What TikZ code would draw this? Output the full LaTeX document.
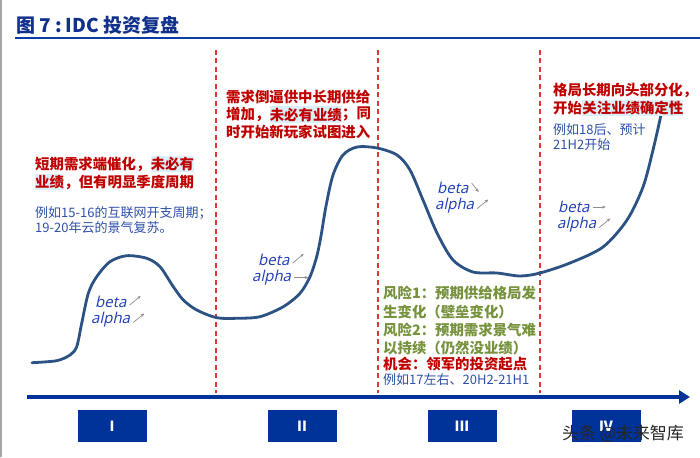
\documentclass[tikz,border=0pt]{standalone}
\usepackage{fontspec}
\setmainfont{Noto Sans CJK SC}
\newfontfamily\itfont[FakeSlant=0.22]{Open Sans}
\usetikzlibrary{arrows.meta}
\definecolor{titleblue}{RGB}{16,48,140}
\definecolor{lineblue}{RGB}{10,60,170}
\definecolor{myred}{RGB}{192,0,0}
\definecolor{myblue}{RGB}{47,80,168}
\definecolor{mygreen}{RGB}{118,146,60}
\definecolor{curvecol}{RGB}{44,82,132}
\definecolor{dashred}{RGB}{228,52,52}
\definecolor{boxblue}{RGB}{0,51,153}
\definecolor{hlcol}{RGB}{220,240,251}
\definecolor{greekblue}{RGB}{30,60,180}
\definecolor{arrgray}{RGB}{140,140,140}
\begin{document}
\begin{tikzpicture}[x=1pt,y=-1pt,
  redtxt/.style={anchor=west, inner sep=0pt, text=myred, font=\fontsize{14.4}{16}\selectfont\bfseries},
  greentxt/.style={anchor=west, inner sep=0pt, text=mygreen, font=\fontsize{14.4}{16}\selectfont\bfseries},
  bluetxt/.style={anchor=west, inner sep=0pt, text=myblue, font=\fontsize{13}{15}\selectfont},
  hl/.style={fill=hlcol, inner xsep=0pt, inner ysep=1.5pt, anchor=west},
  greek/.style={anchor=west, inner sep=0pt, text=greekblue, font=\itfont\fontsize{15}{17}\selectfont},
  smallarr/.style={draw=arrgray, line width=0.7pt, -{Stealth[length=3.5pt,width=3pt]}},
  phase/.style={fill=boxblue, minimum width=69pt, minimum height=32pt, inner sep=0pt, text=white, font=\fontsize{14}{16}\selectfont\bfseries},
  dashline/.style={draw=dashred, line width=1.4pt, dash pattern=on 5pt off 3.5pt},
  curve/.style={draw=curvecol, line width=2.8pt, line cap=round, line join=round},
  wm/.style={inner sep=0pt, font=\fontsize{17}{19}\selectfont}
]
\useasboundingbox (0,0) rectangle (700,457);
\fill[white] (0,0) rectangle (700,457);
% left border
\draw[gray!70, line width=1.5pt] (0.8,0) -- (0.8,457);

% title
\node[anchor=west, inner sep=0pt, text=titleblue, font=\fontsize{19}{21}\selectfont\bfseries] (title) at (16,25) {图 7\hspace{4pt}:\hspace{4pt}IDC 投资复盘};
\coordinate (ulS) at (15,38);
\coordinate (ulE) at (700,38);
\draw[lineblue, line width=1.2pt] (ulS) -- (ulE);

% dashed separators
\coordinate (d1t) at (216,50); \coordinate (d1b) at (216,393);
\coordinate (d2t) at (378,50); \coordinate (d2b) at (378,393);
\coordinate (d3t) at (540,50); \coordinate (d3b) at (540,393);
\draw[dashline] (d1t) -- (d1b);
\draw[dashline] (d2t) -- (d2b);
\draw[dashline] (d3t) -- (d3b);

% curve
\draw[curve] plot[smooth, tension=0.5] coordinates {(32,362.7) (56.7,360.7) (70,355) (76.7,346.7) (81.7,323.3) (88.3,293.3) (96.7,276.7) (110,261.7) (126.7,255.7) (146.7,258.3) (160,266.7) (173.3,286.7) (183.3,300) (196.7,310) (216.7,317.7) (236.7,318.3) (260,316.7) (283.3,306.7) (300,293.3) (310,276.7) (316.7,256.7) (321,236) (326,206) (333,175) (343,155) (357,147) (377,148) (397,155) (410,170) (423,200) (437,233) (453,260) (473,272) (497,273) (520,276) (540,273) (570,263) (603,247) (627,220) (643,187) (653,150) (661,115)};

% axis
\coordinate (axS) at (27,397);
\coordinate (axE) at (690,397);
\draw[boxblue, line width=3.5pt, -{Triangle[length=11pt,width=13pt]}] (axS) -- (axE);

% phase boxes
\node[phase] (p1) at (112,426) {I};
\node[phase] (p2) at (302,426) {II};
\node[phase] (p3) at (462,426) {III};
\node[phase] (p4) at (606,426) {IV};

% Region I text
\node[redtxt] (r1a) at (35,164) {短期需求端催化，};
\node[redtxt, hl] (r1b) at (r1a.east) {未必有};
\node[redtxt, hl] (r1c) at (35,182) {业绩};
\node[redtxt] (r1d) at (r1c.east) {，但有明显季度周期};
\node[bluetxt] (b1a) at (35,213) {例如15-16的互联网开支周期；};
\node[bluetxt] (b1b) at (35,228) {19-20年云的景气复苏。};

% Region II text
\node[redtxt] (r2a) at (226,97) {需求倒逼供中长期供给};
\node[redtxt] (r2b) at (226,114.5) {增加，};
\node[redtxt, hl] (r2c) at (r2b.east) {未必有业绩};
\node[redtxt] (r2d) at (r2c.east) {；同};
\node[redtxt] (r2e) at (226,131.5) {时开始新玩家试图进入};

% Region III text
\node[greentxt] (g3a) at (383,293) {风险1：预期供给格局发};
\node[greentxt] (g3b) at (383,311.5) {生变化（壁垒变化）};
\node[greentxt] (g3c) at (383,330) {风险2：预期需求景气难};
\node[greentxt] (g3d) at (383,348) {以持续（仍然没业绩）};
\node[redtxt] (r3a) at (383,364.5) {机会：领军的投资起点};
\node[bluetxt] (b3a) at (383,380) {例如17左右、20H2-21H1};

% Region IV text
\node[redtxt] (r4a) at (553,90) {格局长期向头部分化，};
\node[redtxt] (r4b) at (553,108) {开始};
\node[redtxt, hl] (r4c) at (r4b.east) {关注业绩确定性};
\node[bluetxt] (b4a) at (553,130) {例如18后、预计};
\node[bluetxt] (b4b) at (553,145) {21H2开始};

% beta / alpha labels
\node[greek] (be1) at (95,302) {beta};
\node[greek] (al1) at (91,319.5) {alpha};
\draw[smallarr] ([xshift=3pt,yshift=-3pt]be1.east) -- ++(11,-9);
\draw[smallarr] ([xshift=3pt,yshift=-3pt]al1.east) -- ++(11,-9);

\node[greek] (be2) at (258,260) {beta};
\node[greek] (al2) at (252,277.5) {alpha};
\draw[smallarr] ([xshift=3pt,yshift=-3pt]be2.east) -- ++(11,-9);
\draw[smallarr] ([xshift=3pt]al2.east) -- ++(14,0);

\node[greek] (be3) at (437,188) {beta};
\node[greek] (al3) at (435,205.5) {alpha};
\draw[smallarr] ([xshift=3pt,yshift=5pt]be3.east) -- ++(7,9);
\draw[smallarr] ([xshift=3pt,yshift=-3pt]al3.east) -- ++(11,-9);

\node[greek] (be4) at (558,207) {beta};
\node[greek] (al4) at (557,224.5) {alpha};
\draw[smallarr] ([xshift=3pt]be4.east) -- ++(13,0);
\draw[smallarr] ([xshift=3pt,yshift=-3pt]al4.east) -- ++(11,-9);

% watermark
\node[wm, text=black!85] (wmk) at (623,434) {头条 @未来智库};
\end{tikzpicture}
\end{document}
